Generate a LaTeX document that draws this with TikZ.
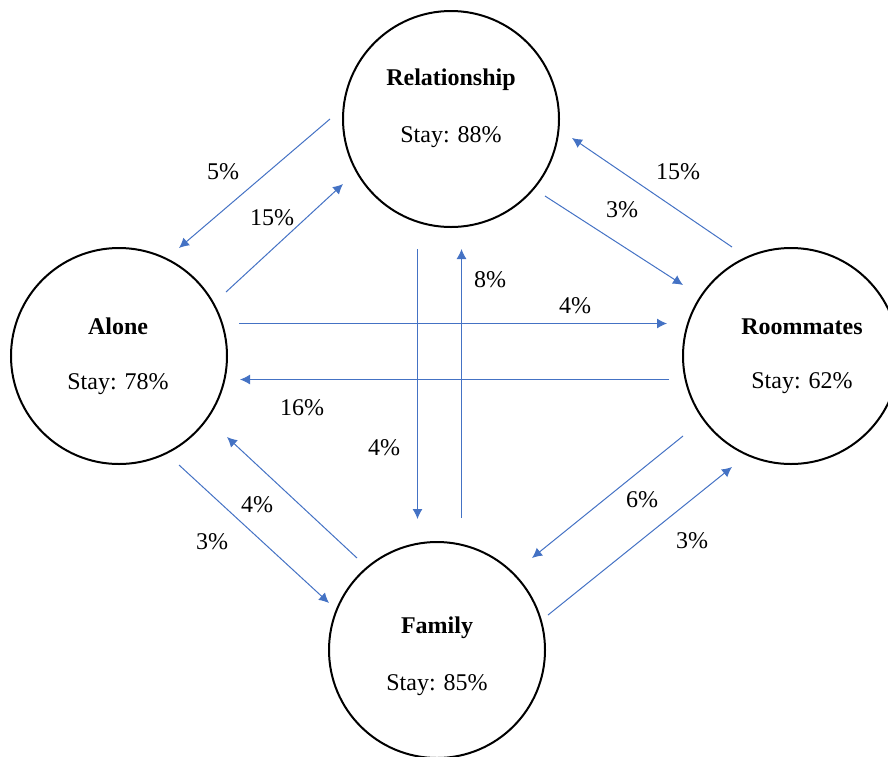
\documentclass[tikz,border=0pt]{standalone}
\usepackage{fontspec}
\setmainfont{Liberation Serif}
\usepackage{xcolor}
\usepackage{tikz}
\usetikzlibrary{arrows.meta}
\definecolor{flowblue}{HTML}{4472C4}
\tikzstyle{state}  = [circle,draw,line width=1pt,minimum size=108pt,inner sep=0pt]
\tikzstyle{txt}    = [inner sep=0pt,font=\fontsize{12}{14}\selectfont]
\tikzstyle{arrow}  = [flowblue,line width=0.5pt,-{Latex[length=5pt,width=5pt]}]

\begin{document}
\begin{tikzpicture}[x=0.5pt,y=-0.5pt]
  \useasboundingbox (0,0) rectangle (888,756);
  \clip (0,0) rectangle (888,756);

  %the four states
  \foreach \n/\x/\y/\name/\stay/\tx/\ty/\sy in {
      rel/451/119/Relationship/88/451/80/137,
      alone/119/356/Alone/78/118/326/384,
      room/791/356/Roommates/62/802/327/383,
      fam/437/650/Family/85/437/628/685}{
    \node[state] (\n) at (\x,\y) {};
    \node[txt,font=\fontsize{12}{14}\selectfont\bfseries] (\n-name) at (\tx,\ty) {\name};
    \node[txt] (\n-stay) at (\tx,\sy) {Stay: \stay\%};
  }

  %moves between states: start, end, label, value
  \foreach \sx/\sy/\ex/\ey/\lx/\ly/\p [count=\i] in {
      330/119/179/248/223/172/5,
      226/292/343/184/272/218/15,
      545/196/683/285/622/210/3,
      732/247/572/138/678/172/15,
      239/323.5/667/323.5/575/306/4,
      669/379.5/240/379.5/302/408/16,
      417.5/249/417.5/519/384/448/4,
      461.5/518/461.5/249/490/280/8,
      683/436/532/558/642/500/6,
      548/615/732/467/692/541/3,
      179/465/329/603/212/542/3,
      357/558/227/437/257/505/4}{
    \coordinate (s\i) at (\sx,\sy);
    \coordinate (e\i) at (\ex,\ey);
    \draw[arrow] (s\i) -- (e\i);
    \node[txt] (p\i) at (\lx,\ly) {\p\%};
  }
\end{tikzpicture}
\end{document}
